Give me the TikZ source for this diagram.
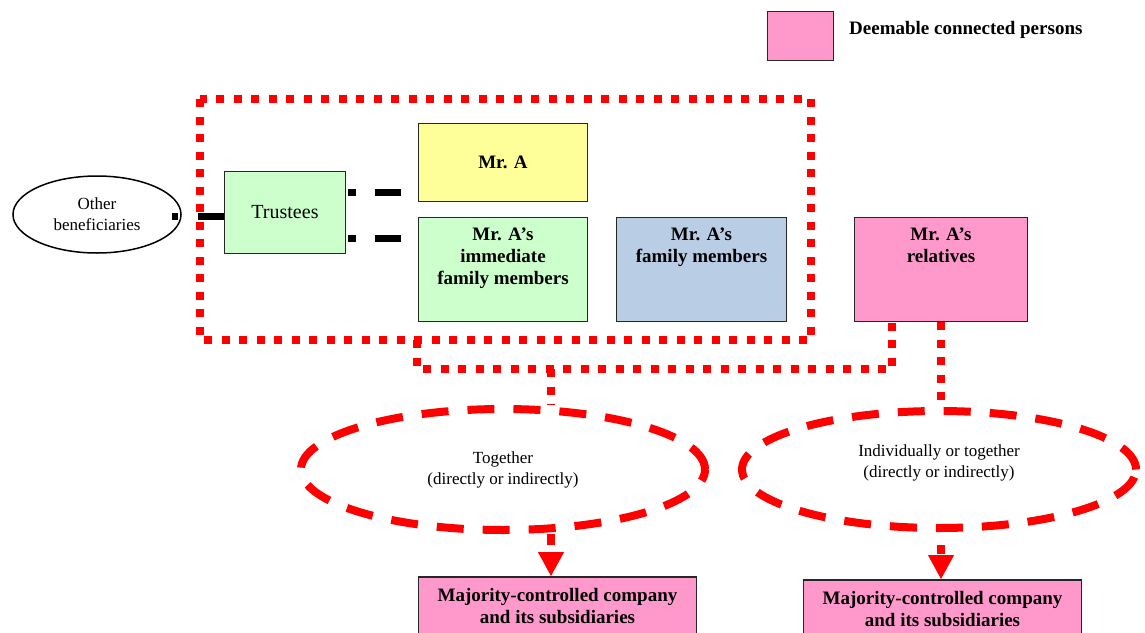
\documentclass[tikz,border=0pt]{standalone}
\usepackage{fontspec}
\setmainfont{Liberation Serif}
\usetikzlibrary{shapes.geometric, arrows.meta}

\definecolor{paleyellow}{HTML}{FFFF99}
\definecolor{palegreen}{HTML}{CCFFCC}
\definecolor{paleblue}{HTML}{B9CDE5}
\definecolor{deempink}{HTML}{FF99CC}

\tikzset{
  box/.style={draw=black!85, line width=1.5pt, inner sep=0pt},
  boxtext/.style={font=\bfseries\fontsize{19}{22}\selectfont, align=center, inner sep=0pt},
  note/.style={font=\fontsize{17}{21}\selectfont, align=center, inner sep=0pt},
  dotline/.style={draw=red, line width=8pt, dash pattern=on 8pt off 9.5pt},
  dashline/.style={draw=red, line width=8pt, dash pattern=on 27pt off 19pt},
  link/.style={draw=black, line width=7pt, dash pattern=on 26pt off 20pt},
  arrowline/.style={draw=red, line width=8pt, -{Triangle[width=26pt, length=24pt, line width=1pt]}},
}

\begin{document}
\begin{tikzpicture}[x=1pt, y=-1pt]
\useasboundingbox (0,0) rectangle (1145,632);

% legend
\node [box, fill=deempink, minimum width=66pt, minimum height=49pt] (leg) at (800.5,36) {};
\node [boxtext, anchor=base west] (legtext) at (849,34) {Deemable connected persons};

% the trust group
\draw [dotline] (200,99) rectangle (811,340);
\node [ellipse, draw, line width=1.5pt, minimum width=168pt, minimum height=77pt, note] (ob) at (97,214.5) {Other\\beneficiaries};
\node [box, fill=palegreen, minimum width=121pt, minimum height=82pt, font=\fontsize{20}{22}\selectfont] (tr) at (285,212.5) {Trustees};
\node [box, fill=paleyellow, minimum width=169pt, minimum height=78pt, boxtext] (mra) at (503,162.5) {Mr. A};
\node [box, fill=palegreen, minimum width=169pt, minimum height=104pt] (imm) at (503,269.5) {};
\node [boxtext, anchor=north] (immtext) at ([yshift=-11pt]imm.north) {Mr. A’s\\immediate\\family members};
\node [box, fill=paleblue, minimum width=170pt, minimum height=104pt] (fam) at (701.5,269.5) {};
\node [boxtext, anchor=north] (famtext) at ([yshift=-11pt]fam.north) {Mr. A’s\\family members};
\node [box, fill=deempink, minimum width=173pt, minimum height=104pt] (rel) at (941,269.5) {};
\node [boxtext, anchor=north] (reltext) at ([yshift=-11pt]rel.north) {Mr. A’s\\relatives};

% links of the trustees
\draw [link, shorten >=-10pt] ([yshift=-3.5pt]tr.west) -- ([yshift=-3.5pt]tr.west -| ob.east);
\draw [link, dash pattern=on 0pt off 2pt on 8pt off 19pt on 26pt off 20pt] ([yshift=20.5pt]tr.east) -- ([yshift=20.5pt]tr.east -| mra.west);
\draw [link, dash pattern=on 0pt off 2pt on 8pt off 19pt on 26pt off 20pt] ([yshift=-25.5pt]tr.east) -- ([yshift=-25.5pt]tr.east -| imm.west);

% control ovals
\node [ellipse, dashline, minimum width=404pt, minimum height=121pt, note] (tog) at (503,469.5) {Together\\(directly or indirectly)};
\node [ellipse, dashline, minimum width=394pt, minimum height=117pt] (ind) at (939,469.5) {};
\node [note, anchor=north] (indtext) at (939,444.5) {Individually or together\\(directly or indirectly)};

% dotted joins
\coordinate (fb) at (417,340);
\coordinate (jl) at (551,369);
\coordinate (jr) at (892,369);
\draw [dotline] (fb) -- (fb |- jl) -- (jr) -- (jr |- rel.south);
\draw [dotline] (jl) -- (jl |- tog.north);
\draw [dotline] (rel.south) -- (rel.south |- ind.north);

% companies
\node [box, fill=deempink, minimum width=278pt, minimum height=80pt] (mcl) at (557.5,616.75) {};
\node [boxtext, anchor=north] (mcltext) at ([yshift=-12.5pt]mcl.north) {Majority-controlled company\\and its subsidiaries};
\node [box, fill=deempink, minimum width=278pt, minimum height=80pt] (mcr) at (942.5,619.75) {};
\node [boxtext, anchor=north] (mcrtext) at ([yshift=-12.5pt]mcr.north) {Majority-controlled company\\and its subsidiaries};

\draw [arrowline, dash pattern=on 11pt off 30pt] (jl |- tog.south) -- (jl |- mcl.north);
\draw [arrowline, dash pattern=on 0pt off 13pt on 9pt off 30pt] (rel.south |- ind.south) -- (rel.south |- mcr.north);
\end{tikzpicture}
\end{document}
